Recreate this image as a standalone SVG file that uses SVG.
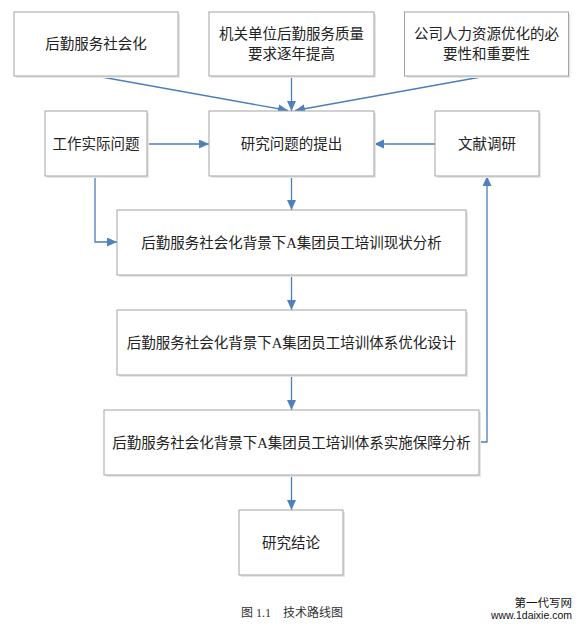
<svg xmlns="http://www.w3.org/2000/svg" width="584" height="630" viewBox="0 0 584 630">
<style>
.box{fill:#fff;stroke:#a3a3a3;stroke-width:1}
.sh{fill:#e6e6e6;stroke:none}
.t{font-family:"Liberation Serif","Noto Sans CJK SC",serif;font-size:14.5px;fill:#222;text-anchor:middle;dominant-baseline:central}
.c{fill:none;stroke:#4a7ebb;stroke-width:1.3}
</style>
<defs>
<marker id="ah" markerUnits="userSpaceOnUse" markerWidth="11" markerHeight="10" refX="10" refY="4.5" orient="auto">
<path d="M0,0 L10,4.5 L0,9 Z" fill="#4f81bd"/>
</marker>
</defs>
<rect width="584" height="630" fill="#fff"/>
<g id="connectors">
<path class="c" d="M96,76 L288,110.5" marker-end="url(#ah)"/>
<path class="c" d="M291.5,76 L291.5,111" marker-end="url(#ah)"/>
<path class="c" d="M486.5,76 L295,110.5" marker-end="url(#ah)"/>
<path class="c" d="M147,144 L209,144" marker-end="url(#ah)"/>
<path class="c" d="M435,144 L374,144" marker-end="url(#ah)"/>
<path class="c" d="M291.5,176 L291.5,210" marker-end="url(#ah)"/>
<path class="c" d="M95,176 L95,242 L117,242" marker-end="url(#ah)"/>
<path class="c" d="M291.5,275 L291.5,310" marker-end="url(#ah)"/>
<path class="c" d="M291.5,375 L291.5,410" marker-end="url(#ah)"/>
<path class="c" d="M291.5,475 L291.5,510" marker-end="url(#ah)"/>
<path class="c" d="M479,442 L487,442 L487,176" marker-end="url(#ah)"/>
</g>
<g id="n1"><rect class="sh" x="16" y="14" width="164" height="64"/><rect class="box" x="14" y="12" width="164" height="64"/><text class="t" x="96" y="44">后勤服务社会化</text></g>
<g id="n2"><rect class="sh" x="211" y="14" width="165" height="64"/><rect class="box" x="209" y="12" width="165" height="64"/><text class="t" x="291.5" y="33.5">机关单位后勤服务质量</text><text class="t" x="291.5" y="53.5">要求逐年提高</text></g>
<g id="n3"><rect class="sh" x="406.5" y="14" width="164" height="64"/><rect class="box" x="404.5" y="12" width="164" height="64"/><text class="t" x="486.5" y="33.5">公司人力资源优化的必</text><text class="t" x="486.5" y="53.5">要性和重要性</text></g>
<g id="n4"><rect class="sh" x="47" y="113" width="102" height="65"/><rect class="box" x="45" y="111" width="102" height="65"/><text class="t" x="96" y="144">工作实际问题</text></g>
<g id="n5"><rect class="sh" x="211" y="113" width="165" height="65"/><rect class="box" x="209" y="111" width="165" height="65"/><text class="t" x="291.5" y="144">研究问题的提出</text></g>
<g id="n6"><rect class="sh" x="437" y="113" width="104" height="65"/><rect class="box" x="435" y="111" width="104" height="65"/><text class="t" x="487" y="144">文献调研</text></g>
<g id="n7"><rect class="sh" x="119" y="212" width="349" height="65"/><rect class="box" x="117" y="210" width="349" height="65"/><text class="t" x="291.5" y="242.5">后勤服务社会化背景下A集团员工培训现状分析</text></g>
<g id="n8"><rect class="sh" x="119" y="312" width="349" height="65"/><rect class="box" x="117" y="310" width="349" height="65"/><text class="t" x="291.5" y="342.5">后勤服务社会化背景下A集团员工培训体系优化设计</text></g>
<g id="n9"><rect class="sh" x="106" y="412" width="375" height="65"/><rect class="box" x="104" y="410" width="375" height="65"/><text class="t" x="291.5" y="442.5">后勤服务社会化背景下A集团员工培训体系实施保障分析</text></g>
<g id="n10"><rect class="sh" x="241" y="512" width="104" height="65"/><rect class="box" x="239" y="510" width="104" height="65"/><text class="t" x="291" y="542.5">研究结论</text></g>
<text x="292" y="617" font-family="Liberation Serif,'Noto Sans CJK SC',serif" font-size="12" fill="#333" text-anchor="middle" xml:space="preserve">图 1.1    技术路线图</text>
<text x="572" y="607" font-family="'Noto Sans CJK SC',sans-serif" font-size="11.5" fill="#111" text-anchor="end">第一代写网</text>
<text x="572" y="619" font-family="'Liberation Sans',sans-serif" font-size="10.5" fill="#111" text-anchor="end">www.1daixie.com</text>
</svg>
